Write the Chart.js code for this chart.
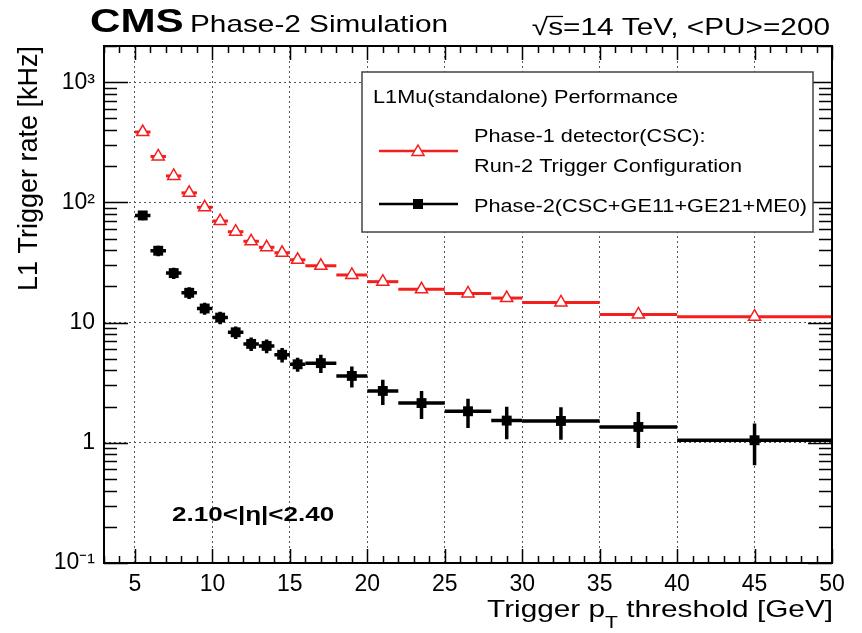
<!DOCTYPE html>
<html lang="en">
<head>
    <meta charset="UTF-8"/>
    <title>L1Mu Trigger rate</title>
    <script src="https://cdn.jsdelivr.net/npm/chart.js@4.4.1/dist/chart.umd.min.js"></script>
    <style>
        html, body { margin: 0; padding: 0; background: #fff; }
        #wrap { width: 862px; height: 633px; }
    </style>
</head>
<body>

<div id="wrap"><canvas id="chart"></canvas></div>

<script>
    // trigger pT threshold bins [GeV]
    const ptCenter = [5.5, 6.5, 7.5, 8.5, 9.5, 10.5, 11.5, 12.5, 13.5, 14.5, 15.5, 17, 19, 21, 23.5, 26.5, 29, 32.5, 37.5, 45];
    const ptLow    = [5, 6, 7, 8, 9, 10, 11, 12, 13, 14, 15, 16, 18, 20, 22, 25, 28, 30, 35, 40];
    const ptHigh   = [6, 7, 8, 9, 10, 11, 12, 13, 14, 15, 16, 18, 20, 22, 25, 28, 30, 35, 40, 50];

    // L1 rate [kHz]
    const ratePhase1 = [385, 241, 166, 120, 91, 70, 57, 47.5, 42.3, 38.1, 33.3, 29.7, 24.9, 21.9, 18.9, 17.5, 16.0, 14.7, 11.7, 11.2];
    const ratePhase2 = [77.9, 39.6, 25.8, 17.7, 13.1, 11.0, 8.3, 6.65, 6.4, 5.4, 4.5, 4.6, 3.6, 2.7, 2.14, 1.83, 1.53, 1.52, 1.355, 1.05];
    const errPhase2  = [7, 4, 2.8, 2.0, 1.5, 1.3, 1.0, 0.85, 0.85, 0.75, 0.6, 0.8, 0.72, 0.64, 0.56, 0.5, 0.46, 0.46, 0.45, 0.4];

    const xTicks = [5, 10, 15, 20, 25, 30, 35, 40, 45, 50];
    const yTicks = [0.1, 1, 10, 100, 1000];
    const yTickLabels = ['10\u207B\u00B9', '1', '10', '10\u00B2', '10\u00B3'];

    const FAM = "'Liberation Sans', Arial, Helvetica, sans-serif";
    const RED = '#f41e1e';
    const SX = 1.24; // text in the reference is a bit wider than Helvetica

    Chart.defaults.font.family = FAM;
    Chart.defaults.color = '#000';

    function stretchText(ctx, str, x, y, font, align) {
        ctx.save();
        ctx.font = font;
        ctx.textBaseline = 'alphabetic';
        ctx.textAlign = 'left';
        const w = ctx.measureText(str).width * SX;
        const x0 = align === 'right' ? x - w : x;
        ctx.translate(x0, y);
        ctx.scale(SX, 1);
        ctx.fillText(str, 0, 0);
        ctx.restore();
        return x0;
    }

    function triangle(ctx, x, y, r) {
        ctx.beginPath();
        ctx.moveTo(x, y - r);
        ctx.lineTo(x + 0.866 * r, y + 0.5 * r);
        ctx.lineTo(x - 0.866 * r, y + 0.5 * r);
        ctx.closePath();
    }

    // bin-width and statistical error bars, drawn under the markers
    const errorBars = {
        id: 'errorBars',
        beforeDatasetsDraw(chart) {
            const ctx = chart.ctx;
            const xs = chart.scales.x, ys = chart.scales.y;
            const area = chart.chartArea;
            ctx.save();
            ctx.beginPath();
            ctx.rect(area.left, area.top, area.right - area.left, area.bottom - area.top);
            ctx.clip();
            ctx.lineCap = 'butt';

            // phase-1: horizontal bars only
            ctx.strokeStyle = RED;
            ctx.lineWidth = 3;
            ratePhase1.forEach((v, i) => {
                const y = ys.getPixelForValue(v);
                ctx.beginPath();
                ctx.moveTo(xs.getPixelForValue(ptLow[i]), y);
                ctx.lineTo(xs.getPixelForValue(ptHigh[i]), y);
                ctx.stroke();
            });

            // phase-2: horizontal and vertical bars
            ctx.strokeStyle = '#000';
            ctx.lineWidth = 3.5;
            ratePhase2.forEach((v, i) => {
                const y = ys.getPixelForValue(v);
                const x = xs.getPixelForValue(ptCenter[i]);
                ctx.beginPath();
                ctx.moveTo(xs.getPixelForValue(ptLow[i]), y);
                ctx.lineTo(xs.getPixelForValue(ptHigh[i]), y);
                ctx.moveTo(x, ys.getPixelForValue(v + errPhase2[i]));
                ctx.lineTo(x, ys.getPixelForValue(v - errPhase2[i]));
                ctx.stroke();
            });
            ctx.restore();
        }
    };

    // ROOT style frame, inward ticks, labels and legend
    const decorations = {
        id: 'decorations',
        afterDraw(chart) {
            const ctx = chart.ctx;
            const xs = chart.scales.x, ys = chart.scales.y;
            const {left, right, top, bottom} = chart.chartArea;

            ctx.save();
            ctx.strokeStyle = '#000';
            ctx.lineWidth = 1.5;

            // x ticks top and bottom
            ctx.beginPath();
            for (let v = 3; v <= 50; v++) {
                const px = Math.round(xs.getPixelForValue(v)) + 0.5;
                const len = v % 5 === 0 ? 14 : 7;
                ctx.moveTo(px, bottom);
                ctx.lineTo(px, bottom - len);
                ctx.moveTo(px, top);
                ctx.lineTo(px, top + len);
            }
            // y log ticks left and right
            for (let d = -1; d <= 3; d++) {
                for (let m = 1; m <= 9; m++) {
                    const v = m * Math.pow(10, d);
                    if (v < ys.min || v > ys.max) continue;
                    const py = Math.round(ys.getPixelForValue(v)) + 0.5;
                    const len = m === 1 ? 24 : 13;
                    ctx.moveTo(left, py);
                    ctx.lineTo(left + len, py);
                    ctx.moveTo(right, py);
                    ctx.lineTo(right - len, py);
                }
            }
            ctx.stroke();

            // frame
            ctx.lineWidth = 2;
            ctx.strokeRect(left, top, right - left, bottom - top);

            // header
            ctx.fillStyle = '#000';
            stretchText(ctx, 'CMS', 90, 32, `bold 34px ${FAM}`, 'left');
            stretchText(ctx, 'Phase-2 Simulation', 190, 32, `24px ${FAM}`, 'left');
            const hdr = '\u221As=14 TeV, <PU>=200';
            const hx = stretchText(ctx, hdr, 830, 35, `24px ${FAM}`, 'right');
            ctx.font = `24px ${FAM}`;
            const wRoot = ctx.measureText('\u221A').width * SX;
            const wS = ctx.measureText('\u221As').width * SX;
            ctx.lineWidth = 1.3;
            ctx.beginPath();
            ctx.moveTo(hx + wRoot - 2, 16.5);
            ctx.lineTo(hx + wS, 16.5);
            ctx.stroke();

            // x axis title with subscript
            const f1 = `24px ${FAM}`, f2 = `17px ${FAM}`;
            ctx.font = f1;
            const wA = ctx.measureText('Trigger p').width;
            const wC = ctx.measureText(' threshold [GeV]').width;
            ctx.font = f2;
            const wB = ctx.measureText('T').width;
            const x0 = 833 - (wA + wB + wC) * SX;
            stretchText(ctx, 'Trigger p', x0, 617, f1, 'left');
            stretchText(ctx, 'T', x0 + wA * SX, 628, f2, 'left');
            stretchText(ctx, ' threshold [GeV]', x0 + (wA + wB) * SX, 617, f1, 'left');

            // eta range
            stretchText(ctx, '2.10<|\u03B7|<2.40', 172, 521, `bold 21px ${FAM}`, 'left');

            // legend
            ctx.fillStyle = '#fff';
            ctx.fillRect(362, 72, 451, 160);
            ctx.strokeStyle = '#444';
            ctx.lineWidth = 1.5;
            ctx.strokeRect(362, 72, 451, 160);
            ctx.fillStyle = '#000';
            const lf = `17.5px ${FAM}`;
            stretchText(ctx, 'L1Mu(standalone) Performance', 373, 103, lf, 'left');
            stretchText(ctx, 'Phase-1 detector(CSC):', 474, 142, lf, 'left');
            stretchText(ctx, 'Run-2 Trigger Configuration', 474, 172, lf, 'left');
            stretchText(ctx, 'Phase-2(CSC+GE11+GE21+ME0)', 474, 212, lf, 'left');

            ctx.lineWidth = 2.5;
            ctx.strokeStyle = RED;
            ctx.beginPath();
            ctx.moveTo(379, 151);
            ctx.lineTo(458, 151);
            ctx.stroke();
            triangle(ctx, 418, 152, 7);
            ctx.fillStyle = '#fff';
            ctx.fill();
            ctx.lineWidth = 1.5;
            ctx.stroke();

            ctx.strokeStyle = '#000';
            ctx.lineWidth = 2.5;
            ctx.beginPath();
            ctx.moveTo(379, 204);
            ctx.lineTo(458, 204);
            ctx.stroke();
            ctx.fillStyle = '#000';
            ctx.fillRect(413, 199, 10, 10);

            ctx.restore();
        }
    };

    const ctx = document.getElementById('chart').getContext('2d');
    const chart = new Chart(ctx, {
        type: 'scatter',
        data: {
            datasets: [
                {
                    label: 'Phase-1 detector(CSC): Run-2 Trigger Configuration',
                    data: ptCenter.map((x, i) => ({x: x, y: ratePhase1[i]})),
                    showLine: false,
                    pointStyle: 'triangle',
                    pointRadius: 7,
                    pointBorderWidth: 1.5,
                    pointBackgroundColor: '#fff',
                    pointBorderColor: RED,
                    borderColor: RED,
                    backgroundColor: '#fff'
                },
                {
                    label: 'Phase-2(CSC+GE11+GE21+ME0)',
                    data: ptCenter.map((x, i) => ({x: x, y: ratePhase2[i]})),
                    showLine: false,
                    pointStyle: 'rect',
                    pointRadius: 7,
                    pointBorderWidth: 0,
                    pointBackgroundColor: '#000',
                    pointBorderColor: '#000',
                    borderColor: '#000',
                    backgroundColor: '#000'
                }
            ]
        },
        options: {
            responsive: true,
            maintainAspectRatio: false,
            animation: false,
            layout: {
                padding: {top: 46, right: 30, left: 0, bottom: 0}
            },
            scales: {
                x: {
                    type: 'linear',
                    min: 3,
                    max: 50,
                    afterBuildTicks: scale => {
                        scale.ticks = xTicks.map(v => ({value: v}));
                    },
                    afterFit: scale => {
                        scale.height = 70;
                    },
                    ticks: {
                        autoSkip: false,
                        maxRotation: 0,
                        padding: 8,
                        color: '#000',
                        font: {size: 23}
                    },
                    grid: {
                        color: '#555',
                        lineWidth: 1,
                        drawTicks: false
                    },
                    border: {
                        display: false,
                        dash: [2, 3]
                    }
                },
                y: {
                    type: 'logarithmic',
                    min: 0.1,
                    max: 2000,
                    afterBuildTicks: scale => {
                        scale.ticks = yTicks.map(v => ({value: v}));
                    },
                    afterFit: scale => {
                        scale.width = 104;
                    },
                    ticks: {
                        autoSkip: false,
                        padding: 9,
                        color: '#000',
                        font: {size: 23},
                        callback: (value, index) => yTickLabels[index]
                    },
                    grid: {
                        color: '#555',
                        lineWidth: 1,
                        drawTicks: false
                    },
                    border: {
                        display: false,
                        dash: [2, 3]
                    },
                    title: {
                        display: true,
                        text: 'L1 Trigger rate [kHz]',
                        align: 'end',
                        color: '#000',
                        font: {size: 27},
                        padding: {top: 13, bottom: 0}
                    }
                }
            },
            plugins: {
                legend: {display: false},
                tooltip: {enabled: false}
            }
        },
        plugins: [errorBars, decorations]
    });
</script>

</body>
</html>
